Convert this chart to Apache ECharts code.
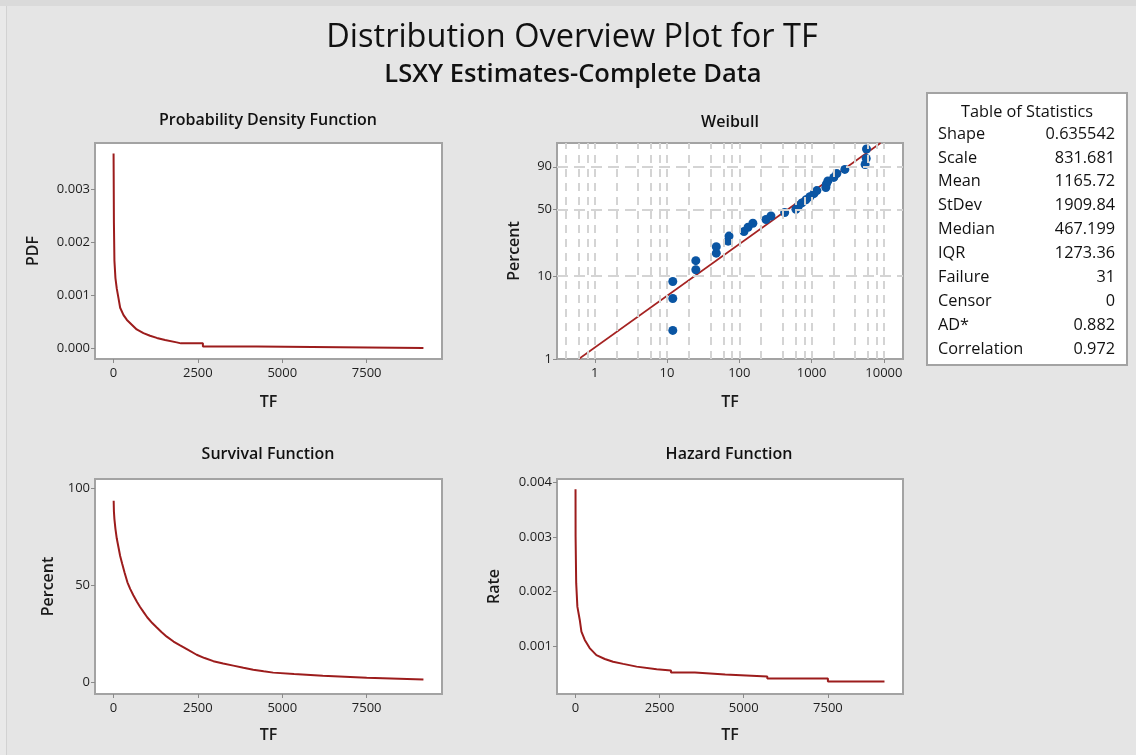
<!DOCTYPE html>
<html><head><meta charset="utf-8">
<script src="https://cdn.jsdelivr.net/npm/echarts@6/dist/echarts.min.js"></script>
<style>html,body{margin:0;padding:0;background:#e5e5e5}#c{width:1136px;height:755px}</style>
</head><body><div id="c"></div>
<script>
// ---------- data ----------
const mainTitle = 'Distribution Overview Plot for TF';
const subTitle = 'LSXY Estimates-Complete Data';
const panelTitles = ['Probability Density Function', 'Weibull', 'Survival Function', 'Hazard Function'];

const tfTicks = [0, 2500, 5000, 7500];
const pdfTicks = [0, 0.001, 0.002, 0.003];
const survTicks = [0, 50, 100];
const hazTicks = [0.001, 0.002, 0.003, 0.004];
const weibullXTicks = [1, 10, 100, 1000, 10000];
const weibullYTicks = [1, 10, 50, 90];
const weibullXGrid = [0.4, 0.6, 0.8, 1, 2, 4, 6, 8, 10, 20, 40, 60, 80, 100, 200, 400, 600, 800, 1000, 2000, 4000, 6000, 8000, 10000];
const weibullYGrid = [10, 50, 90];

const pdfTF  = [5, 8, 15, 30, 60, 100, 150, 200, 300, 400, 545, 690, 890, 1085, 1285, 1530, 1875, 2000, 2650, 2650, 4250, 4250, 9180];
const pdfVal = [0.00367, 0.00332, 0.00237, 0.00165, 0.00132, 0.00112, 0.00094, 0.00076, 0.00062, 0.00053, 0.00044, 0.00035, 0.00028, 0.00023, 0.00019, 0.00015, 0.000106, 0.000087, 0.000087, 0.00003, 0.00003, 0.0, 0.0];

const survTF  = [8, 15, 30, 60, 100, 150, 200, 260, 330, 415, 500, 590, 700, 790, 900, 1000, 1150, 1285, 1430, 1580, 1780, 1975, 2200, 2465, 2700, 2960, 3250, 3550, 3850, 4140, 4450, 4730, 5350, 5350, 6200, 6200, 7500, 7500, 9180];
const survPct = [93.5, 88, 84, 79, 74, 69.5, 65, 61, 56.5, 51.5, 48, 44.8, 41.3, 38.8, 36, 33.5, 30.5, 28.2, 25.8, 23.5, 21, 19, 16.8, 14.2, 12.5, 10.9, 9.7, 8.6, 7.5, 6.5, 5.7, 5.0, 4.3, 3.4, 3.4, 2.4, 2.4, 1.4, 1.4];

const hazTF  = [5, 7, 25, 60, 130, 180, 280, 425, 625, 875, 1120, 1420, 1820, 2415, 2840, 2840, 3550, 3550, 4450, 4450, 5700, 5700, 7500, 7500, 9180];
const hazVal = [0.00387, 0.00301, 0.00215, 0.00172, 0.00148, 0.00126, 0.00111, 0.00096, 0.00083, 0.00076, 0.00071, 0.00067, 0.00062, 0.00057, 0.00055, 0.00051, 0.00051, 0.000475, 0.000475, 0.00044, 0.00044, 0.0004, 0.0004, 0.000345, 0.000345];

const weibullTF  = [12, 12, 12, 25, 25, 48, 48, 70, 72, 116, 132, 154, 234, 274, 424, 607, 657, 735, 834, 947, 1076, 1183, 1575, 1600, 1680, 2030, 2235, 2884, 5500, 5700, 5750];
const weibullPct = [2.23, 5.41, 8.60, 11.78, 14.97, 18.15, 21.34, 24.52, 27.71, 30.89, 34.08, 37.26, 40.45, 43.63, 46.82, 50.00, 53.18, 56.37, 59.55, 62.74, 65.92, 69.11, 72.29, 75.48, 78.66, 81.85, 85.03, 88.22, 91.40, 94.59, 97.77];
const fitTF  = [0.6, 9000];
const fitPct = [1, 98.9];

const statLabels = ['Shape', 'Scale', 'Mean', 'StDev', 'Median', 'IQR', 'Failure', 'Censor', 'AD*', 'Correlation'];
const statValues = ['0.635542', '831.681', '1165.72', '1909.84', '467.199', '1273.36', '31', '0', '0.882', '0.972'];

// ---------- helpers ----------
const FONT = '"Open Sans", "Noto Sans", sans-serif';
const RED = '#9c1c1c';
const BLUE = '#0a55a3';
const wy = p => Math.log(-Math.log(1 - p / 100));   // Weibull probability scale
const lx = v => Math.log10(v);                        // log10 scale
const zip = (a, b) => a.map((v, i) => [v, b[i]]);

const grids = [
  {left: 95, top: 143, width: 347, height: 216},
  {left: 557, top: 143, width: 346, height: 216},
  {left: 95, top: 479, width: 347, height: 215},
  {left: 557, top: 479, width: 346, height: 215}
].map(g => Object.assign(g, {show: true, backgroundColor: '#ffffff', borderColor: '#a3a3a3', borderWidth: 2, containLabel: false}));

const tickStyle = {show: true, length: 4, lineStyle: {color: '#8a8a8a', width: 1}};
const lblStyle = {fontFamily: FONT, fontSize: 13, color: '#1e1e1e'};
const nameStyle = {fontFamily: FONT, fontSize: 16, fontWeight: 600, color: '#1a1a1a'};

function xAxisCfg(gi, min, max, ticks, fmt, gap) {
  return {gridIndex: gi, type: 'value', min, max, name: 'TF', nameLocation: 'middle', nameGap: gap, nameTextStyle: nameStyle,
    axisLine: {show: false, onZero: false}, splitLine: {show: false},
    axisTick: Object.assign({customValues: ticks}, tickStyle),
    axisLabel: Object.assign({customValues: ticks, formatter: fmt, margin: 8}, lblStyle)};
}
function yAxisCfg(gi, min, max, ticks, fmt, name, gap) {
  return {gridIndex: gi, type: 'value', min, max, name, nameLocation: 'middle', nameGap: gap, nameTextStyle: nameStyle,
    axisLine: {show: false, onZero: false}, splitLine: {show: false},
    axisTick: Object.assign({customValues: ticks}, tickStyle),
    axisLabel: Object.assign({customValues: ticks, formatter: fmt, margin: 5}, lblStyle)};
}

const tfMin = -545, tfMax = 9730;
const xAxes = [
  xAxisCfg(0, tfMin, tfMax, tfTicks, v => String(Math.round(v)), 35),
  xAxisCfg(1, lx(0.3), lx(18400), weibullXTicks.map(lx), v => String(Math.round(Math.pow(10, v))), 35),
  xAxisCfg(2, tfMin, tfMax, tfTicks, v => String(Math.round(v)), 33),
  xAxisCfg(3, tfMin, tfMax, tfTicks, v => String(Math.round(v)), 33)
];
const yAxes = [
  yAxisCfg(0, -0.000208, 0.00387, pdfTicks, v => v.toFixed(3), 'PDF', 54),
  yAxisCfg(1, wy(1), wy(98.9), weibullYTicks.map(wy), v => {
    let best = 0; weibullYTicks.forEach((p, i) => { if (Math.abs(wy(p) - v) < Math.abs(wy(weibullYTicks[best]) - v)) best = i; });
    return String(weibullYTicks[best]);
  }, 'Percent', 35),
  yAxisCfg(2, -6.0, 104.65, survTicks, v => String(Math.round(v)), 'Percent', 39),
  yAxisCfg(3, 0.000118, 0.00406, hazTicks, v => v.toFixed(3), 'Rate', 55)
];

const curve = (gi, xs, ys) => ({type: 'line', xAxisIndex: gi, yAxisIndex: gi, data: zip(xs, ys), showSymbol: false, symbol: 'none',
  lineStyle: {color: RED, width: 2}, z: 3, animation: false, silent: true});

const series = [
  curve(0, pdfTF, pdfVal),
  curve(2, survTF, survPct),
  curve(3, hazTF, hazVal),
  {type: 'line', xAxisIndex: 1, yAxisIndex: 1, data: [], z: 1, animation: false, silent: true,
    markLine: {silent: true, animation: false, symbol: ['none', 'none'], label: {show: false},
      lineStyle: {color: '#d4d4d4', width: 2, type: [8, 6]},
      data: weibullXGrid.map(v => ({xAxis: lx(v)}))}},
  {type: 'line', xAxisIndex: 1, yAxisIndex: 1, data: [], z: 1, animation: false, silent: true,
    markLine: {silent: true, animation: false, symbol: ['none', 'none'], label: {show: false},
      lineStyle: {color: '#d4d4d4', width: 2, type: [11, 6]},
      data: weibullYGrid.map(p => ({yAxis: wy(p)}))}},
  {type: 'line', xAxisIndex: 1, yAxisIndex: 1, data: zip(fitTF.map(lx), fitPct.map(wy)), showSymbol: false, symbol: 'none',
    lineStyle: {color: '#a52322', width: 1.6}, z: 3, animation: false, silent: true},
  {type: 'scatter', xAxisIndex: 1, yAxisIndex: 1, data: zip(weibullTF.map(lx), weibullPct.map(wy)), symbol: 'circle', symbolSize: 9,
    itemStyle: {color: BLUE, opacity: 1}, z: 4, animation: false, silent: true}
];

// ---------- text / table ----------
const T = (x, y, text, size, weight, align) => ({type: 'text', x, y, silent: true,
  style: {text, font: `${weight} ${size}px ${FONT}`, fill: '#111111', align: align || 'center', verticalAlign: 'middle',
    textAlign: align || 'center', textVerticalAlign: 'middle'}});

const graphics = [
  {type: 'rect', shape: {x: 0, y: 0, width: 1136, height: 6}, style: {fill: '#dadada'}, silent: true, z: -10},
  {type: 'rect', shape: {x: 0, y: 6, width: 6, height: 749}, style: {fill: '#e9e9e9'}, silent: true, z: -10},
  {type: 'rect', shape: {x: 6, y: 6, width: 1, height: 749}, style: {fill: '#d2d2d2'}, silent: true, z: -10},
  T(572, 38, mainTitle, 32.5, 'normal'),
  T(573, 75, subTitle, 25.5, 600),
  T(268, 120, panelTitles[0], 16, 600),
  T(730, 122, panelTitles[1], 16, 600),
  T(268, 454, panelTitles[2], 16, 600),
  T(729, 454, panelTitles[3], 16, 600),
  {type: 'rect', shape: {x: 927, y: 93, width: 200, height: 272}, style: {fill: '#ffffff', stroke: '#a3a3a3', lineWidth: 2}, silent: true},
  T(1027, 112, 'Table of Statistics', 16.3, 'normal')
];
statLabels.forEach((l, i) => {
  const y = 134 + i * 23.9;
  graphics.push(T(938, y, l, 16.3, 'normal', 'left'));
  graphics.push(T(1115, y, statValues[i], 16.3, 'normal', 'right'));
});

const chart = echarts.init(document.getElementById('c'), null, {renderer: 'canvas'});
chart.setOption({
  backgroundColor: '#e5e5e5',
  animation: false,
  grid: grids,
  xAxis: xAxes,
  yAxis: yAxes,
  series,
  graphic: {elements: graphics}
});
</script>
</body></html>
